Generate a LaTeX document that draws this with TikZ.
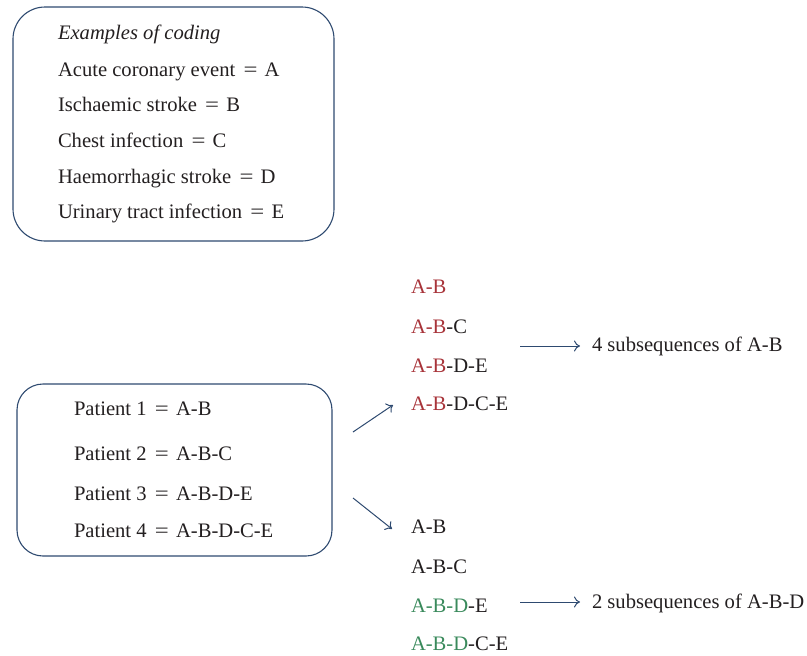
\documentclass[tikz,border=0pt]{standalone}
\usepackage{fontspec}
\setmainfont{Liberation Serif}
\usetikzlibrary{arrows.meta}
\definecolor{frame}{HTML}{2E4A70}
\definecolor{txt}{HTML}{231F20}
\definecolor{redc}{HTML}{A8343A}
\definecolor{greenc}{HTML}{3A8A5C}
\newcommand{\myeq}{\hspace{0.4em}\scalebox{1.2}[1]{=}\hspace{0.35em}}
\begin{document}
\begin{tikzpicture}[x=1pt,y=-1pt,
  every node/.style={inner sep=0pt,outer sep=0pt},
  lbl/.style={anchor=base west,font=\fontsize{20.6}{24}\selectfont,text=txt},
  box/.style={draw=frame,line width=1.1pt,rectangle},
  arr/.style={draw=frame,line width=1pt,-{To[length=6pt,width=11pt]}}]
\useasboundingbox (0,0) rectangle (807,656);
% boxes
\node[box,rounded corners=32pt,minimum width=321pt,minimum height=234pt] (b1) at (173.5,124) {};
\node[box,rounded corners=26pt,minimum width=315pt,minimum height=172pt] (b2) at (174.5,470) {};
% coding text
\node[lbl] (t0) at (58,39) {\itshape Examples of coding};
\node[lbl] (t1) at (58,76) {Acute coronary event\myeq A};
\node[lbl] (t2) at (58,111) {Ischaemic stroke\myeq B};
\node[lbl] (t3) at (58,147) {Chest infection\myeq C};
\node[lbl] (t4) at (58,183) {Haemorrhagic stroke\myeq D};
\node[lbl] (t5) at (58,218) {Urinary tract infection\myeq E};
% patients
\node[lbl] (p1) at (74,415) {Patient 1\myeq A-B};
\node[lbl] (p2) at (74,460) {Patient 2\myeq A-B-C};
\node[lbl] (p3) at (74,500) {Patient 3\myeq A-B-D-E};
\node[lbl] (p4) at (74,537) {Patient 4\myeq A-B-D-C-E};
% upper list
\node[lbl] (u1) at (411,293) {\textcolor{redc}{A-B}};
\node[lbl] (u2) at (411,333) {\textcolor{redc}{A-B}-C};
\node[lbl] (u3) at (411,372) {\textcolor{redc}{A-B}-D-E};
\node[lbl] (u4) at (411,410) {\textcolor{redc}{A-B}-D-C-E};
\node[lbl] (us) at (592,351) {4 subsequences of A-B};
% lower list
\node[lbl] (l1) at (411,533) {A-B};
\node[lbl] (l2) at (411,573) {A-B-C};
\node[lbl] (l3) at (411,612) {\textcolor{greenc}{A-B-D}-E};
\node[lbl] (l4) at (411,650) {\textcolor{greenc}{A-B-D}-C-E};
\node[lbl] (ls) at (592,608) {2 subsequences of A-B-D};
% arrows
\coordinate (a1s) at (353,432);
\coordinate (a1e) at (393,405);
\coordinate (a2s) at (353,498);
\coordinate (a2e) at (392,529);
\coordinate (h1s) at (520,346);
\coordinate (h1e) at (580,346);
\coordinate (h2s) at (520,602);
\coordinate (h2e) at (580,602);
\draw[arr] (a1s) -- (a1e);
\draw[arr] (a2s) -- (a2e);
\draw[arr] (h1s) -- (h1e);
\draw[arr] (h2s) -- (h2e);
\end{tikzpicture}
\end{document}
